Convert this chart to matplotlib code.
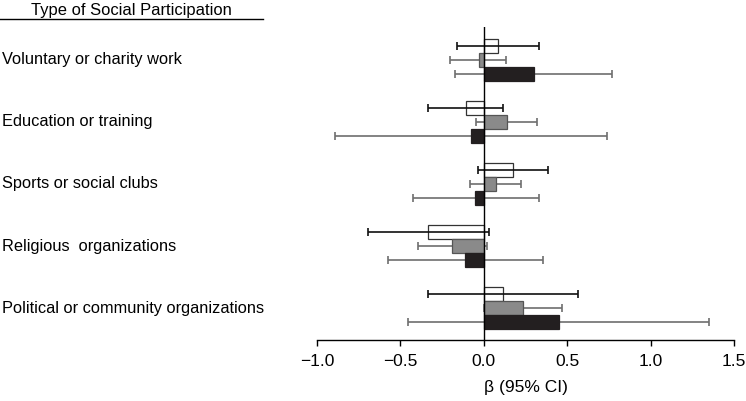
import matplotlib.pyplot as plt
from matplotlib.lines import Line2D
from matplotlib import transforms

plt.rcParams['font.family'] = ['Liberation Sans', 'DejaVu Sans']

categories = ['Voluntary or charity work', 'Education or training',
              'Sports or social clubs', 'Religious  organizations',
              'Political or community organizations']

# three series per category: estimate, lower CI, upper CI
white_est = [0.086, -0.108, 0.174, -0.334, 0.116]
white_lo = [-0.16, -0.334, -0.036, -0.696, -0.334]
white_hi = [0.33, 0.116, 0.384, 0.032, 0.566]

gray_est = [-0.03, 0.14, 0.074, -0.19, 0.234]
gray_lo = [-0.20, -0.046, -0.08, -0.396, 0.0]
gray_hi = [0.136, 0.32, 0.224, 0.018, 0.466]

black_est = [0.30, -0.078, -0.05, -0.11, 0.45]
black_lo = [-0.17, -0.894, -0.424, -0.574, -0.452]
black_hi = [0.77, 0.738, 0.328, 0.356, 1.35]

series = [
    (white_est, white_lo, white_hi, 'white', '#333333', '#111111', -1),
    (gray_est, gray_lo, gray_hi, '#8a8a8a', '#555555', '#6e6e6e', 0),
    (black_est, black_lo, black_hi, '#231f20', '#231f20', '#6e6e6e', 1),
]

fig = plt.figure(figsize=(7.46, 4.01), dpi=100)
ax = fig.add_axes([317 / 746, 61 / 401, 417 / 746, 313 / 401])

h = 0.226
for est, lo, hi, fill, edge, ecol, k in series:
    ys = [i + k * h for i in range(len(categories))]
    xerr = [[e - l for e, l in zip(est, lo)], [u - e for e, u in zip(est, hi)]]
    bar_z = 2 if fill == 'white' else 4
    ax.barh(ys, est, height=h, color=fill, edgecolor=edge, linewidth=0.9, zorder=bar_z)
    ax.errorbar(est, ys, xerr=xerr, fmt='none', ecolor=ecol, elinewidth=1.2,
                capsize=2.9, capthick=1.2, zorder=3)

ax.axvline(0, color='black', lw=1.0, zorder=5)
ax.set_xlim(-1.0, 1.5)
ax.set_ylim(4.516, -0.532)
ax.set_xticks([-1.0, -0.5, 0.0, 0.5, 1.0, 1.5])
ax.set_xticklabels(['\u22121.0', '\u22120.5', '0.0', '0.5', '1.0', '1.5'], fontsize=12.5)
ax.tick_params(axis='x', direction='out', length=4, width=1, pad=6)
ax.set_yticks([])
for s in ['left', 'top', 'right']:
    ax.spines[s].set_visible(False)
ax.spines['bottom'].set_linewidth(1.0)
ax.set_xlabel('\u03b2 (95% CI)', fontsize=12.5, labelpad=8)

trans = transforms.blended_transform_factory(fig.transFigure, ax.transData)
for i, c in enumerate(categories):
    ax.text(2 / 746, i, c, transform=trans, ha='left', va='center', fontsize=11.8)

fig.text(131 / 746, 1 - 10 / 401, 'Type of Social Participation', ha='center',
         va='center', fontsize=11.9)
fig.add_artist(Line2D([0, 263 / 746], [1 - 19 / 401, 1 - 19 / 401],
                      color='black', lw=1.0, transform=fig.transFigure))

fig.savefig('out.png', dpi=100)
